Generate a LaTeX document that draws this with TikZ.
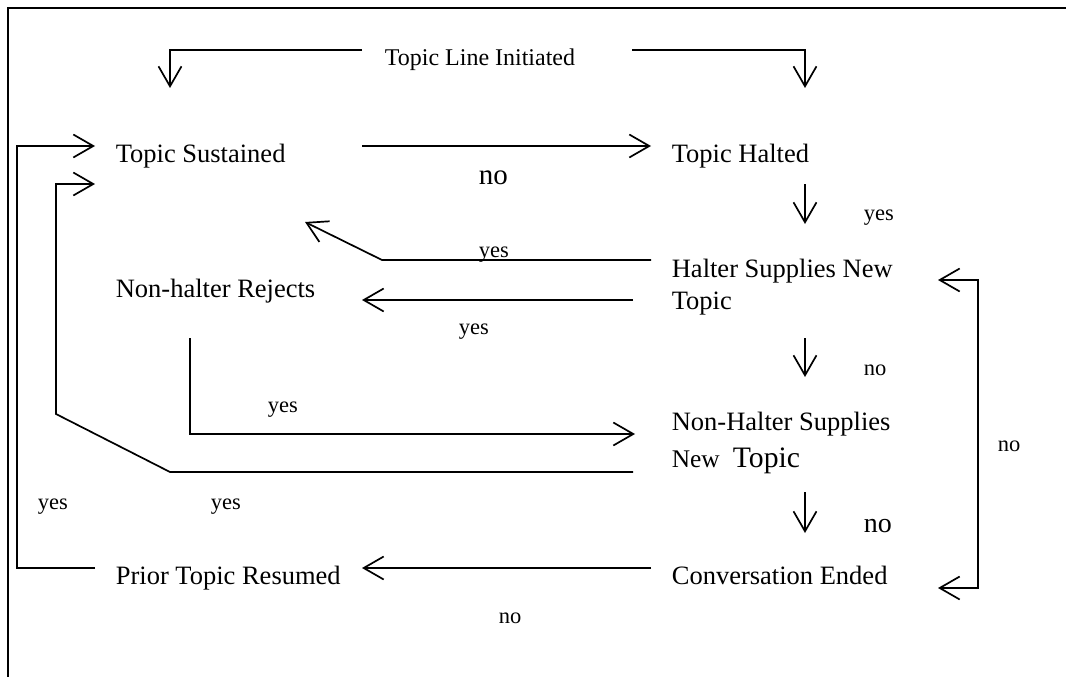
\documentclass[tikz,border=0pt]{standalone}
\usepackage{fontspec}
\setmainfont{Liberation Serif}
\usetikzlibrary{arrows.meta}
\begin{document}
\begin{tikzpicture}[x=1pt,y=-1pt,
  line width=1.7pt,
  conn/.style={draw, line join=miter},
  tip/.style={-{Straight Barb[length=20pt,width=23pt]}},
  lbl/.style={anchor=base west, inner sep=0pt, font=\fontsize{26.5}{32}\selectfont},
  ttl/.style={anchor=base west, inner sep=0pt, font=\fontsize{24}{28}\selectfont},
  ans/.style={anchor=base west, inner sep=0pt, font=\fontsize{22.5}{26}\selectfont},
  bigans/.style={anchor=base west, inner sep=0pt, font=\fontsize{29}{32}\selectfont}]
\useasboundingbox (0,0) rectangle (1066,677);
% outer frame (top and left edges)
\draw[line width=2pt] (8,677) -- (8,8) -- (1066,8);

% state labels
\node[ttl] (init) at (384,66) {Topic Line Initiated};
\node[lbl] (sust) at (115,162) {Topic Sustained};
\node[lbl] (halt) at (671,162) {Topic Halted};
\node[lbl] (hsA) at (671,277) {Halter Supplies New};
\node[lbl] (hsB) at (671,309) {Topic};
\node[lbl] (rej) at (115,297) {Non-halter Rejects};
\node[lbl] (nhA) at (671,430) {Non-Halter Supplies};
\node[anchor=base west, inner sep=0pt, font=\fontsize{25.4}{30}\selectfont] (nhB) at (671,467) {New};
\node[anchor=base west, inner sep=0pt, font=\fontsize{29.7}{34}\selectfont] (nhC) at (732,467) {Topic};
\node[lbl] (ended) at (671,584) {Conversation Ended};
\node[lbl] (prior) at (115,584) {Prior Topic Resumed};

% answer labels
\node[bigans] (aHalt) at (478,184) {no};
\node[ans] (aHy) at (863,220) {yes};
\node[ans] (aUp) at (478,257) {yes};
\node[ans] (aRej) at (458,334) {yes};
\node[ans] (aHn) at (863,375) {no};
\node[ans] (aNr) at (267,412) {yes};
\node[bigans, font=\fontsize{28}{32}\selectfont] (aNn) at (863,532) {no};
\node[ans] (aEnd) at (498,623) {no};
\node[ans] (aLoop) at (997,451) {no};
\node[ans] (aOut) at (37,509) {yes};
\node[ans] (aIn) at (210,509) {yes};

% connector end points
\coordinate (iL) at (362,50);  \coordinate (iLc) at (170,50);  \coordinate (iLe) at (170,88);
\coordinate (iR) at (632,50);  \coordinate (iRc) at (805,50);  \coordinate (iRe) at (805,88);
\coordinate (sOut) at (362,146); \coordinate (hIn) at (651,146);
\coordinate (hDn) at (805,184); \coordinate (hsTop) at (805,224);
\coordinate (hsU) at (651,260); \coordinate (hsUc) at (382,260); \coordinate (sIn) at (305,222);
\coordinate (hsL) at (633,300); \coordinate (rIn) at (362,300);
\coordinate (hsDn) at (805,338); \coordinate (nhTop) at (805,377);
\coordinate (rDn) at (190,338); \coordinate (rDc) at (190,434); \coordinate (nhIn) at (635,434);
\coordinate (nhL) at (633,472); \coordinate (nhLc) at (170,472); \coordinate (nhLd) at (56,414);
\coordinate (nhLu) at (56,184); \coordinate (sIn2) at (95,184);
\coordinate (nhDn) at (805,492); \coordinate (eTop) at (805,533);
\coordinate (eL) at (651,568); \coordinate (pIn) at (362,568);
\coordinate (pOut) at (95,568); \coordinate (pOc) at (17,568); \coordinate (pOu) at (17,146);
\coordinate (sIn1) at (95,146);
\coordinate (loopT) at (938,280); \coordinate (loopTc) at (978,280);
\coordinate (loopB) at (938,588); \coordinate (loopBc) at (978,588);

% connectors
\draw[conn,tip] (iL) -- (iLc) -- (iLe);
\draw[conn,tip] (iR) -- (iRc) -- (iRe);
\draw[conn,tip] (sOut) -- (hIn);
\draw[conn,tip] (hDn) -- (hsTop);
\draw[conn,tip] (hsU) -- (hsUc) -- (sIn);
\draw[conn,tip] (hsL) -- (rIn);
\draw[conn,tip] (hsDn) -- (nhTop);
\draw[conn,tip] (rDn) -- (rDc) -- (nhIn);
\draw[conn,tip] (nhL) -- (nhLc) -- (nhLd) -- (nhLu) -- (sIn2);
\draw[conn,tip] (nhDn) -- (eTop);
\draw[conn,tip] (eL) -- (pIn);
\draw[conn,tip] (pOut) -- (pOc) -- (pOu) -- (sIn1);
\draw[conn,{Straight Barb[length=20pt,width=23pt]}-{Straight Barb[length=20pt,width=23pt]}] (loopT) -- (loopTc) -- (loopBc) -- (loopB);
\end{tikzpicture}
\end{document}
